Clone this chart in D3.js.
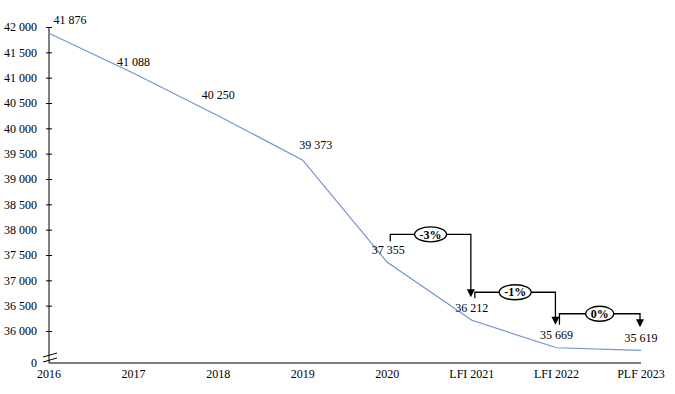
<!DOCTYPE html>
<html>
<head>
<meta charset="utf-8">
<script src="https://cdn.jsdelivr.net/npm/d3@7"></script>
<style>
  body { margin: 0; background: #fff; }
  svg text { font-family: "Liberation Serif", "Times New Roman", serif; font-size: 12px; fill: #000; }
</style>
</head>
<body>
<svg id="chart" width="675" height="394"></svg>
<script>
const categories = ['2016', '2017', '2018', '2019', '2020', 'LFI 2021', 'LFI 2022', 'PLF 2023'];
const values = [41876, 41088, 40250, 39373, 37355, 36212, 35669, 35619];
const yTicks = [36000, 36500, 37000, 37500, 38000, 38500, 39000, 39500, 40000, 40500, 41000, 41500, 42000];

// year-on-year change callouts
const changeFrom = ['2020', 'LFI 2021', 'LFI 2022'];
const changeTo = ['LFI 2021', 'LFI 2022', 'PLF 2023'];
const changeLabels = ['-3%', '-1%', '0%'];

// hand placement of the value labels (as in the original)
const labelDx = [21, 0, 0, 13, 1, 0, 0, 0];
const labelDy = [-9, -7, -17, -11, -8, -8, -9, -8];
const bracketRise = [28, 28, 34];
const bracketDrop = [7, 6, 11];

const svg = d3.select('#chart');
const fr = d3.formatLocale({decimal: ',', thousands: ' ', grouping: [3], currency: ['', '']});
const fmt = fr.format(',d');

const x = d3.scalePoint().domain(categories).range([49, 641]);
const y = d3.scaleLinear().domain([36000, 42000]).range([331, 27]);
const baseY = 363;

// y axis
const yAxis = svg.append('g')
    .attr('transform', 'translate(49,0)')
    .call(d3.axisLeft(y).tickValues(yTicks).tickFormat(fmt).tickSize(3).tickPadding(9));
yAxis.select('.domain').remove();
yAxis.selectAll('.tick line').attr('x1', -3).attr('x2', 3).attr('stroke', '#000');
yAxis.selectAll('.tick text').attr('font-size', null).attr('font-family', null);
yAxis.append('line')
    .attr('x1', 0).attr('x2', 0)
    .attr('y1', 27).attr('y2', baseY)
    .attr('stroke', '#000');
yAxis.append('text')
    .attr('x', -12).attr('y', baseY)
    .attr('dy', '0.32em')
    .attr('text-anchor', 'end')
    .text('0');

// axis break
[0, 5].forEach(off => {
  svg.append('line')
      .attr('x1', 43).attr('y1', 357 + off)
      .attr('x2', 57).attr('y2', 353 + off)
      .attr('stroke', '#000');
});

// x axis
svg.append('line')
    .attr('x1', x(categories[0])).attr('x2', x(categories[categories.length - 1]))
    .attr('y1', baseY).attr('y2', baseY)
    .attr('stroke', '#000');
svg.append('g').selectAll('text')
  .data(categories)
  .join('text')
    .attr('x', d => x(d))
    .attr('y', 378)
    .attr('text-anchor', 'middle')
    .text(d => d);

// line
const pts = categories.map((c, i) => ({cat: c, v: values[i], i}));
svg.append('path')
    .datum(pts)
    .attr('fill', 'none')
    .attr('stroke', '#6f95cf')
    .attr('stroke-width', 1.2)
    .attr('d', d3.line().x(d => x(d.cat)).y(d => y(d.v)));

// value labels
svg.append('g').selectAll('text')
  .data(pts)
  .join('text')
    .attr('x', d => x(d.cat) + labelDx[d.i])
    .attr('y', d => y(d.v) + labelDy[d.i])
    .attr('text-anchor', 'middle')
    .text(d => fmt(d.v));

// change callouts
changeLabels.forEach((lab, k) => {
  const fi = categories.indexOf(changeFrom[k]);
  const ti = categories.indexOf(changeTo[k]);
  const x0 = x(changeFrom[k]) + 3;
  const x1 = x(changeTo[k]) - 1;
  const lvl = y(values[fi]) - bracketRise[k];
  const tip = y(values[ti]) - 23;
  const g = svg.append('g');
  g.append('path')
      .attr('fill', 'none')
      .attr('stroke', '#000')
      .attr('stroke-width', 1.3)
      .attr('d', `M${x0},${lvl + bracketDrop[k]}V${lvl}H${x1}V${tip - 6}`);
  g.append('path')
      .attr('fill', '#000')
      .attr('d', `M${x1 - 4},${tip - 8}L${x1 + 4},${tip - 8}L${x1},${tip}Z`);
  const cx = (x0 + x1) / 2;
  const ell = g.append('ellipse')
      .attr('cx', cx).attr('cy', lvl)
      .attr('ry', 7.5)
      .attr('fill', '#fff')
      .attr('stroke', '#000')
      .attr('stroke-width', 1.3);
  const t = g.append('text')
      .attr('x', cx).attr('y', lvl)
      .attr('dy', '0.35em')
      .attr('text-anchor', 'middle')
      .attr('font-weight', 'bold')
      .text(lab);
  ell.attr('rx', t.node().getComputedTextLength() / 2 + 5);
});
</script>
</body>
</html>
